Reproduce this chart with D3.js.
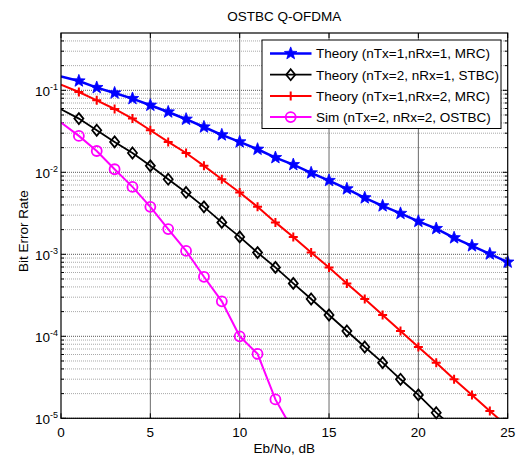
<!DOCTYPE html>
<html>
<head>
<meta charset="utf-8">
<script src="https://cdn.jsdelivr.net/npm/d3@7"></script>
<style>
  body { margin: 0; background: #fff; }
  svg { display: block; font-family: "Liberation Sans", Arial, sans-serif; }
</style>
</head>
<body>
<svg width="516" height="457"></svg>
<script>
// Eb/No values (dB)
const ebno = [0, 1, 2, 3, 4, 5, 6, 7, 8, 9, 10, 11, 12, 13, 14, 15, 16, 17, 18, 19, 20, 21, 22, 23, 24, 25];

// BER values
const berSiso = [0.148, 0.130, 0.108, 0.0927, 0.0793, 0.0657, 0.0544, 0.0444, 0.0357, 0.0286,
    0.0235, 0.0191, 0.0151, 0.0124, 0.00984, 0.00794, 0.00628, 0.00488, 0.00390, 0.00315,
    0.00252, 0.00206, 0.00159, 0.00127, 0.00101, 0.000803];
const berStbc = [0.0587, 0.0452, 0.0326, 0.0235, 0.0172, 0.0120, 0.00824, 0.00568, 0.00379, 0.00245,
    0.00163, 0.00105, 0.000692, 0.000442, 0.000285, 0.000182, 0.000116, 7.41e-5, 4.77e-5, 2.99e-5,
    1.93e-5, 1.17e-5, 7.6e-6, 4.9e-6, 3.1e-6, 2.0e-6];
const berMrc = [0.117, 0.0953, 0.0755, 0.0592, 0.0452, 0.0326, 0.0235, 0.0172, 0.0120, 0.00824,
    0.00568, 0.00379, 0.00245, 0.00163, 0.00105, 0.000692, 0.000442, 0.000285, 0.000182, 0.000116,
    7.41e-5, 4.77e-5, 2.99e-5, 1.93e-5, 1.23e-5, 7.9e-6];
const berSim = [0.0405, 0.0278, 0.0182, 0.0109, 0.00664, 0.00379, 0.00203, 0.00110, 0.000532, 0.000267,
    0.000100, 6.1e-5, 1.7e-5, 7e-6];

const xTicks = [0, 5, 10, 15, 20, 25];
const yTickExp = [-5, -4, -3, -2, -1];

const series = [
    { name: "Theory (nTx=1,nRx=1, MRC)", values: berSiso, color: "#0000ff", marker: "star", width: 2.5 },
    { name: "Theory (nTx=2, nRx=1, STBC)", values: berStbc, color: "#000000", marker: "diamond", width: 1.8 },
    { name: "Theory (nTx=1,nRx=2, MRC)", values: berMrc, color: "#ff0000", marker: "plus", width: 2 },
    { name: "Sim (nTx=2, nRx=2, OSTBC)", values: berSim, color: "#ff00ff", marker: "circle", width: 2 }
];

// Dimensions
const margin = { top: 33, right: 8.3, bottom: 38.7, left: 61 },
    width = 516 - margin.left - margin.right,
    height = 457 - margin.top - margin.bottom;

const fontSize = "13.5px";

const svg = d3.select("svg")
    .append("g")
    .attr("transform", `translate(${margin.left},${margin.top})`);

const x = d3.scaleLinear().domain([0, 25]).range([0, width]);
const y = d3.scaleLog().domain([1e-5, 0.5]).range([height, 0]);

svg.append("clipPath").attr("id", "clip")
    .append("rect").attr("width", width).attr("height", height);

// Grid lines
const minorVals = [];
yTickExp.forEach(e => {
    for (let k = 2; k <= 9; k++) {
        const v = k * Math.pow(10, e);
        if (v < 0.5) minorVals.push(v);
    }
});

svg.append("g").selectAll("line")
    .data(minorVals)
    .join("line")
    .attr("x1", 0).attr("x2", width)
    .attr("y1", d => y(d)).attr("y2", d => y(d))
    .attr("stroke", "#a8a8a8")
    .attr("stroke-width", 1)
    .attr("stroke-dasharray", "1,1");

svg.append("g").selectAll("line")
    .data(yTickExp.map(e => Math.pow(10, e)))
    .join("line")
    .attr("x1", 0).attr("x2", width)
    .attr("y1", d => y(d)).attr("y2", d => y(d))
    .attr("stroke", "#555")
    .attr("stroke-width", 1)
    .attr("stroke-dasharray", "1,1");

svg.append("g").selectAll("line")
    .data(xTicks.slice(1, -1))
    .join("line")
    .attr("x1", d => x(d)).attr("x2", d => x(d))
    .attr("y1", 0).attr("y2", height)
    .attr("stroke", "#444")
    .attr("stroke-width", 0.8);

// Ticks (inward, both sides)
const tickG = svg.append("g").attr("stroke", "#000").attr("stroke-width", 1);
xTicks.forEach(t => {
    tickG.append("line").attr("x1", x(t)).attr("x2", x(t)).attr("y1", height).attr("y2", height - 5);
    tickG.append("line").attr("x1", x(t)).attr("x2", x(t)).attr("y1", 0).attr("y2", 5);
});
yTickExp.forEach(e => {
    const yy = y(Math.pow(10, e));
    tickG.append("line").attr("x1", 0).attr("x2", 5).attr("y1", yy).attr("y2", yy);
    tickG.append("line").attr("x1", width).attr("x2", width - 5).attr("y1", yy).attr("y2", yy);
});
minorVals.forEach(v => {
    tickG.append("line").attr("x1", 0).attr("x2", 3).attr("y1", y(v)).attr("y2", y(v));
    tickG.append("line").attr("x1", width).attr("x2", width - 3).attr("y1", y(v)).attr("y2", y(v));
});

// Tick labels
svg.append("g").selectAll("text")
    .data(xTicks)
    .join("text")
    .attr("x", d => x(d))
    .attr("y", height + 19)
    .attr("text-anchor", "middle")
    .style("font-size", fontSize)
    .text(d => d);

const yLab = svg.append("g").selectAll("text")
    .data(yTickExp)
    .join("text")
    .attr("x", -3)
    .attr("y", d => y(Math.pow(10, d)) + 5.5)
    .attr("text-anchor", "end")
    .style("font-size", fontSize);
yLab.append("tspan").text("10");
yLab.append("tspan")
    .attr("dy", -6)
    .style("font-size", "9px")
    .text(d => d);

// Lines
const line = d3.line()
    .x((d, i) => x(ebno[i]))
    .y(d => y(d));

const plotG = svg.append("g").attr("clip-path", "url(#clip)");
series.forEach(s => {
    plotG.append("path")
        .datum(s.values)
        .attr("fill", "none")
        .attr("stroke", s.color)
        .attr("stroke-width", s.width)
        .attr("d", line);
});

// Markers
function starPath(r) {
    const pts = [];
    const ri = r * 0.42;
    for (let k = 0; k < 10; k++) {
        const a = -Math.PI / 2 + k * Math.PI / 5;
        const rr = k % 2 === 0 ? r : ri;
        pts.push([rr * Math.cos(a), rr * Math.sin(a)]);
    }
    return "M" + pts.map(p => p.join(",")).join("L") + "Z";
}

function drawMarker(g, type, color) {
    if (type === "star") {
        g.append("path").attr("d", starPath(6.6)).attr("fill", color).attr("stroke", color).attr("stroke-width", 0.8);
    } else if (type === "diamond") {
        g.append("path").attr("d", "M0,-5.5L4.5,0L0,5.5L-4.5,0Z")
            .attr("fill", "none").attr("stroke", color).attr("stroke-width", 1.8);
    } else if (type === "plus") {
        g.append("path").attr("d", "M-4.5,0L4.5,0M0,-4.5L0,4.5")
            .attr("fill", "none").attr("stroke", color).attr("stroke-width", 2);
    } else if (type === "circle") {
        g.append("circle").attr("r", 5)
            .attr("fill", "none").attr("stroke", color).attr("stroke-width", 1.8);
    }
}

series.forEach(s => {
    s.values.forEach((v, i) => {
        if (i === 0 || v < 1e-5) return;
        const g = svg.append("g").attr("transform", `translate(${x(ebno[i])},${y(v)})`);
        drawMarker(g, s.marker, s.color);
    });
});

// Axes box
svg.append("rect")
    .attr("width", width).attr("height", height)
    .attr("fill", "none").attr("stroke", "#000").attr("stroke-width", 1.2);

// Legend
const legend = svg.append("g").attr("transform", `translate(${262 - margin.left},${40 - margin.top})`);
legend.append("rect")
    .attr("width", 239).attr("height", 88.5)
    .attr("fill", "#fff").attr("stroke", "#000").attr("stroke-width", 1);
series.forEach((s, i) => {
    const ly = 13.5 + i * 21.2;
    const row = legend.append("g").attr("transform", `translate(0,${ly})`);
    row.append("line").attr("x1", 8).attr("x2", 49.5).attr("y1", 0).attr("y2", 0)
        .attr("stroke", s.color).attr("stroke-width", s.width);
    const m = row.append("g").attr("transform", "translate(28.7,0)");
    drawMarker(m, s.marker, s.color);
    row.append("text")
        .attr("x", 54)
        .attr("y", 4.8)
        .style("font-size", fontSize)
        .text(s.name);
});

// Axis labels and title
svg.append("text")
    .attr("x", width / 2)
    .attr("y", height + 35)
    .attr("text-anchor", "middle")
    .style("font-size", fontSize)
    .text("Eb/No, dB");

svg.append("text")
    .attr("transform", `translate(${28 - margin.left},${231 - margin.top}) rotate(-90)`)
    .attr("text-anchor", "middle")
    .style("font-size", fontSize)
    .text("Bit Error Rate");

svg.append("text")
    .attr("x", width / 2)
    .attr("y", -12.5)
    .attr("text-anchor", "middle")
    .style("font-size", fontSize)
    .text("OSTBC Q-OFDMA");
</script>
</body>
</html>
